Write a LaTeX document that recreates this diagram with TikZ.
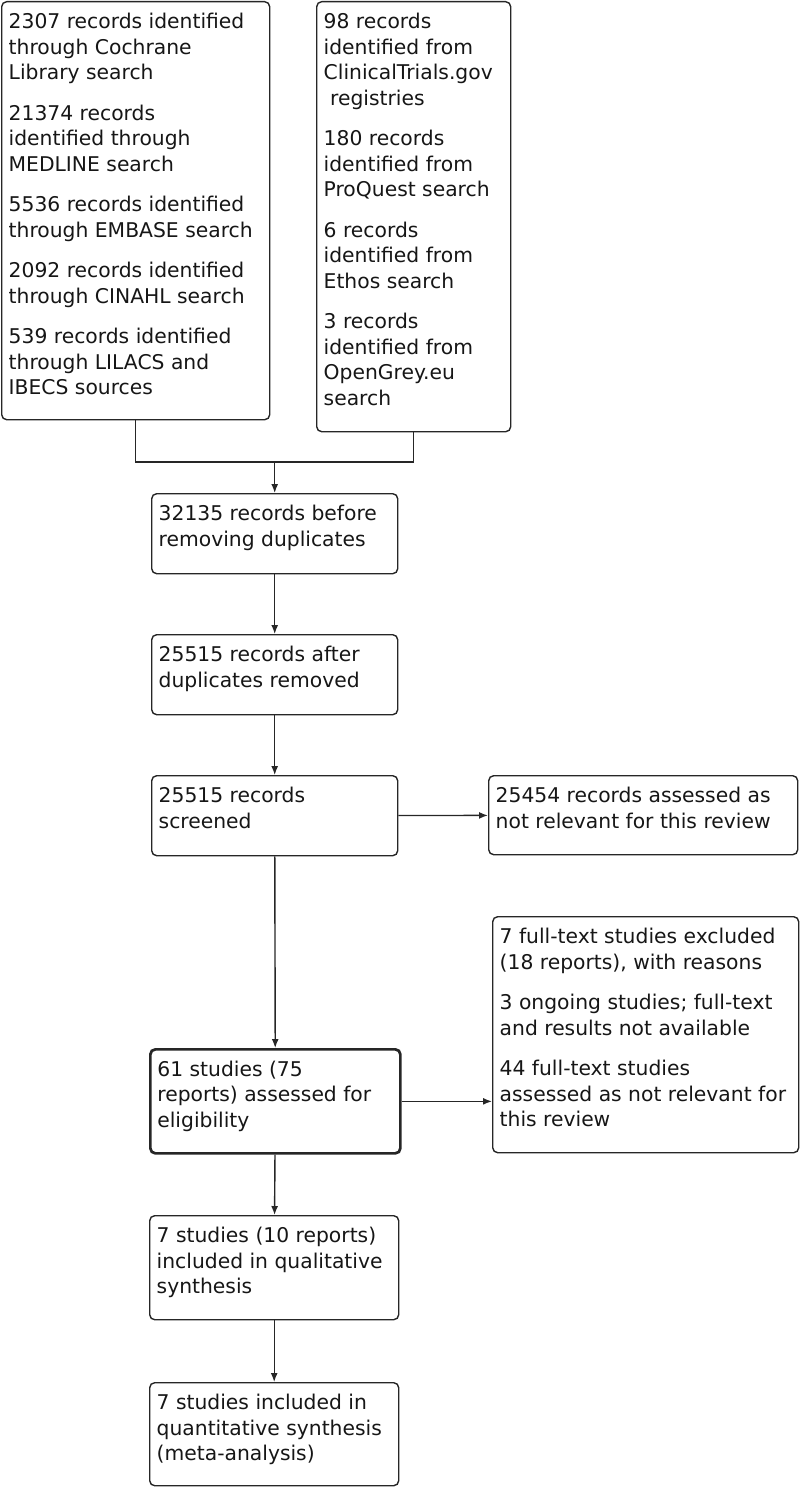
\documentclass[tikz,border=0pt]{standalone}
\usepackage{fontspec}
\setmainfont{DejaVu Sans}
\usetikzlibrary{arrows.meta,calc}
\definecolor{ink}{HTML}{161616}
\definecolor{edge}{HTML}{262626}
\newcommand\bxt[3]{\parbox[c][#2pt][t]{#1pt}{\begin{tabular}[t]{@{}l@{}}#3\end{tabular}}}
\tikzset{
  box/.style={draw=edge, line width=1.4pt, rounded corners=5pt, anchor=north west,
    inner xsep=7pt, inner ysep=9pt, text=ink, font=\fontsize{20.3}{25.5}\selectfont},
  thickbox/.style={box, line width=2.7pt},
  link/.style={draw=edge, line width=1.4pt},
  arr/.style={link, -{Latex[length=9pt,width=7pt]}}
}
\begin{document}
\begin{tikzpicture}[x=1pt,y=1pt]
\useasboundingbox (0,0) rectangle (800,-1487);
\node[box] (L) at (1,-1) {\bxt{254}{400}{2307 records identified\\through Cochrane\\Library search\\[15pt]21374 records\\identified through\\MEDLINE search\\[15pt]5536 records identified\\through EMBASE search\\[15pt]2092 records identified\\through CINAHL search\\[15pt]539 records identified\\through LILACS and\\IBECS sources}};
\node[box] (R) at (316,-1) {\bxt{180}{412}{98 records\\identified from\\ClinicalTrials.gov\\\ registries\\[15pt]180 records\\identified from\\ProQuest search\\[15pt]6 records\\identified from\\Ethos search\\[15pt]3 records\\identified from\\OpenGrey.eu\\search}};
\node[box] (b3) at (151,-493) {\bxt{232}{62}{32135 records before\\removing duplicates}};
\node[box] (b4) at (151,-634) {\bxt{232}{62}{25515 records after\\duplicates removed}};
\node[box] (b5) at (151,-775) {\bxt{232}{62}{25515 records\\screened}};
\node[box] (b6) at (488,-775) {\bxt{295}{61}{25454 records assessed as\\not relevant for this review}};
\node[thickbox] (b7) at (149,-1048) {\bxt{236}{86}{61 studies (75\\reports) assessed for\\eligibility}};
\node[box] (b8) at (492,-916) {\bxt{292}{218}{7 full-text studies excluded\\(18 reports), with reasons\\[15pt]3 ongoing studies; full-text\\and results not available\\[15pt]44 full-text studies\\assessed as not relevant for\\this review}};
\node[box] (b9) at (149,-1215) {\bxt{235}{86}{7 studies (10 reports)\\included in qualitative\\synthesis}};
\node[box] (b10) at (149,-1382) {\bxt{235}{85}{7 studies included in\\quantitative synthesis\\(meta-analysis)}};
\coordinate (join) at ($(b3.north)+(0,31)$);
\draw[link] (L.south) -- (L.south |- join) -| (R.south);
\draw[arr] (join) -- (b3.north);
\draw[arr] (b3) -- (b4);
\draw[arr] (b4) -- (b5);
\draw[arr] (b5) -- (b6);
\draw[arr] (b5) -- (b7);
\draw[arr] (b7.east) -- (b7.east -| b8.west);
\draw[arr] (b7) -- (b9);
\draw[arr] (b9) -- (b10);
\end{tikzpicture}
\end{document}
